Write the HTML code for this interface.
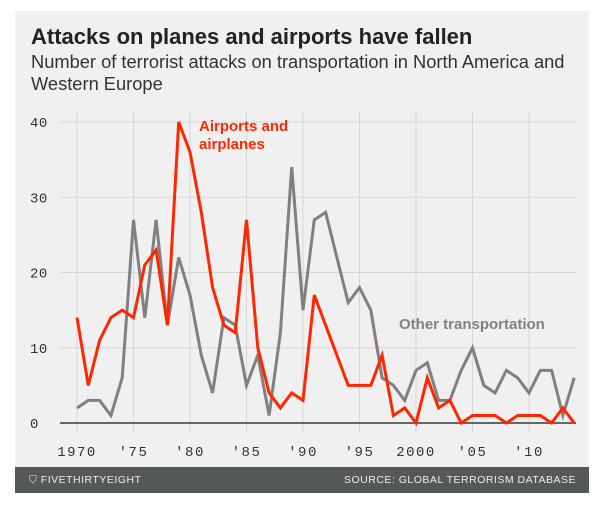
<!DOCTYPE html>
<html><head><meta charset="utf-8"><style>
body{margin:0;width:603px;height:516px;background:#fff;overflow:hidden;font-family:"Liberation Sans",sans-serif}
#panel{position:absolute;left:15px;top:11px;width:574px;height:482px;background:#f0f0f0}
#title{position:absolute;left:16px;top:13px;font-size:22px;font-weight:bold;color:#222;white-space:nowrap}
#sub{position:absolute;left:16px;top:40px;font-size:18.3px;color:#333;line-height:22px;width:555px}
#footer{position:absolute;left:0;top:456px;width:574px;height:26px;background:#555858;color:#eee;font-size:10.5px;font-family:"Liberation Sans Narrow","Liberation Sans",sans-serif}
svg{position:absolute;left:0;top:0}
</style></head><body>
<div id="panel">
<div id="title">Attacks on planes and airports have fallen</div>
<div id="sub">Number of terrorist attacks on transportation in North America and Western Europe</div>
<div id="footer">
<span style="position:absolute;left:14px;top:7px;letter-spacing:0.5px">⛉ FIVETHIRTYEIGHT</span>
<span style="position:absolute;right:13px;top:7px;letter-spacing:0.5px">SOURCE: GLOBAL TERRORISM DATABASE</span>
</div>
</div>
<svg id="chart" width="603" height="516"></svg>
<script>
const years=[];for(let y=1970;y<=2014;y++)years.push(y);
const airports=[14,5,11,14,15,14,21,23,13,40,36,28,18,13,12,27,10,4,2,4,3,17,13,9,5,5,5,9,1,2,0,6,2,3,0,1,1,1,0,1,1,1,0,2,0];
const other=[2,3,3,1,6,27,14,27,13,22,17,9,4,14,13,5,9,1,12,34,15,27,28,22,16,18,15,6,5,3,7,8,3,3,7,10,5,4,7,6,4,7,7,1,6];
const yTicks=[0,10,20,30,40];
const xTickYears=[1970,1975,1980,1985,1990,1995,2000,2005,2010];
const xTickLabels=["1970","'75","'80","'85","'90","'95","2000","'05","'10"];
const X=v=>77+(v-1970)*(529-77)/40;
const Y=v=>423-v*(423-122)/40;
const svg=document.getElementById('chart');const NS='http://www.w3.org/2000/svg';
function mk(t,a){const e=document.createElementNS(NS,t);for(const k in a)e.setAttribute(k,a[k]);svg.appendChild(e);return e;}
xTickYears.forEach((v,i)=>{
const l=mk('line',{x1:X(v),x2:X(v),y1:112,y2:433,stroke:'#d6d6d6','stroke-width':1});


const t=mk('text',{x:X(v),y:456,'text-anchor':'middle','font-size':14,fill:'#333','letter-spacing':'1.5','font-family':'Liberation Mono, monospace'});
t.textContent=xTickLabels[i];


});
yTicks.forEach(v=>{
const l=mk('line',{x1:60,x2:576,y1:Y(v),y2:Y(v),stroke:v===0?'#666':'#d6d6d6','stroke-width':v===0?2:1});


const t=mk('text',{x:30,y:Y(v)+5,'font-size':14,fill:'#333','letter-spacing':'0.5','font-family':'Liberation Mono, monospace'});
t.textContent=String(v);


});
function line(data,color,name){
const p=mk('polyline',{points:data.map((v,i)=>X(years[i])+','+Y(v)).join(' '),fill:'none',stroke:color,'stroke-width':3,'stroke-linejoin':'miter'});


}
line(other,'#808080','other-transportation-line');
line(airports,'#ff2700','airports-line');
const l1=mk('text',{x:199,y:131,'font-size':15,'font-weight':'bold',fill:'#ff2700'});l1.textContent='Airports and';


const l2=mk('text',{x:199,y:149,'font-size':15,'font-weight':'bold',fill:'#ff2700'});l2.textContent='airplanes';


const l3=mk('text',{x:399,y:329,'font-size':15,'font-weight':'bold',fill:'#808080'});l3.textContent='Other transportation';


</script>
</body></html>
